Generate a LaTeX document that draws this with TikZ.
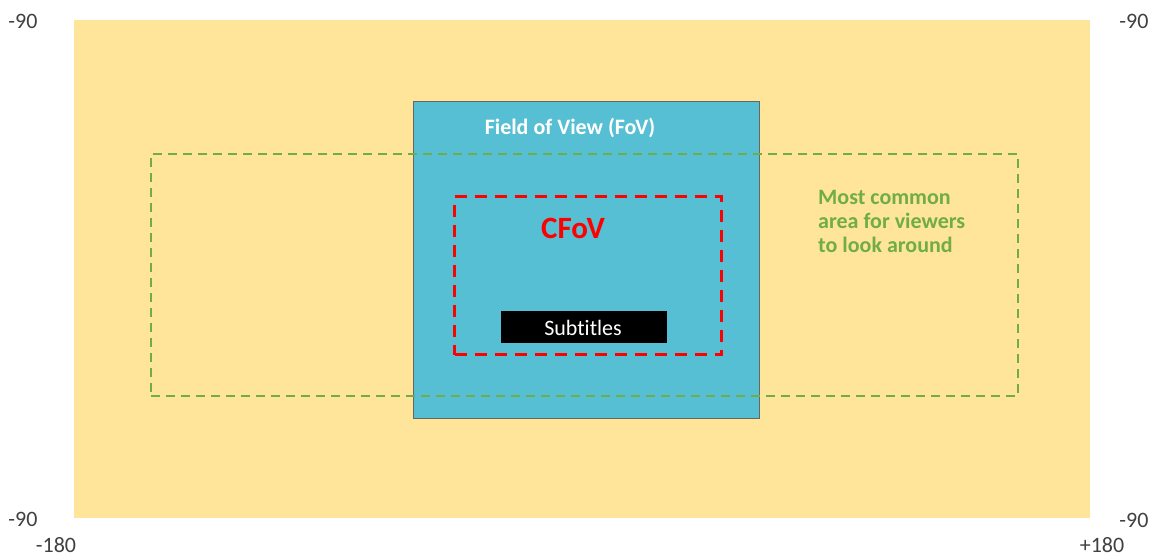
\documentclass[tikz,border=0pt]{standalone}
\usepackage{fontspec}
\setmainfont[Ligatures={NoCommon}]{Carlito}
\begin{document}
\begin{tikzpicture}[x=1pt,y=-1pt,
  lbl/.style={text=black!75, font=\fontsize{22}{24}\selectfont, inner sep=0pt},
]
\definecolor{bgyellow}{HTML}{FFE59A}
\definecolor{fovblue}{HTML}{57BFD3}
\definecolor{mygreen}{HTML}{70AD47}
\definecolor{myred}{HTML}{FF0000}
\useasboundingbox (0,0) rectangle (1150,558);
\fill[bgyellow] (74,20) rectangle (1090,518);
\node[draw=black!60, line width=0.6pt, fill=fovblue, minimum width=346pt, minimum height=317pt, anchor=north west, inner sep=0pt] (fov) at (413,101) {};
\node[anchor=center, text=white, font=\bfseries\fontsize{22}{24}\selectfont] (fovl) at (570,128) {Field of View (FoV)};
\node[draw=mygreen, line width=1.6pt, dash pattern=on 9pt off 6pt, minimum width=867pt, minimum height=242pt, anchor=north west, inner sep=0pt] (common) at (150,153) {};
\node[draw=myred, line width=3pt, dash pattern=on 12pt off 8pt, minimum width=267pt, minimum height=158pt, anchor=north west, inner sep=0pt] (cfov) at (453,195) {};
\node[text=myred, font=\bfseries\fontsize{31}{34}\selectfont] (cfovl) at (573,228) {CFoV};
\node[fill=black, minimum width=166pt, minimum height=32pt, anchor=north west, inner sep=0pt] (subbox) at (501,311) {};
\node[text=white, font=\fontsize{22}{24}\selectfont] (subl) at (583,328) {Subtitles};
\node[text=mygreen, font=\bfseries\fontsize{22}{24}\selectfont, align=left, anchor=north west, inner sep=0pt] (commonl) at (818,190) {Most common\\area for viewers\\to look around};
\node[lbl] (tl) at (23,21) {-90};
\node[lbl] (tr) at (1134,21) {-90};
\node[lbl] (bl) at (23,519) {-90};
\node[lbl] (br) at (1134,520) {-90};
\node[lbl] (xl) at (56,545) {-180};
\node[lbl] (xr) at (1102,545) {+180};
\end{tikzpicture}
\end{document}
